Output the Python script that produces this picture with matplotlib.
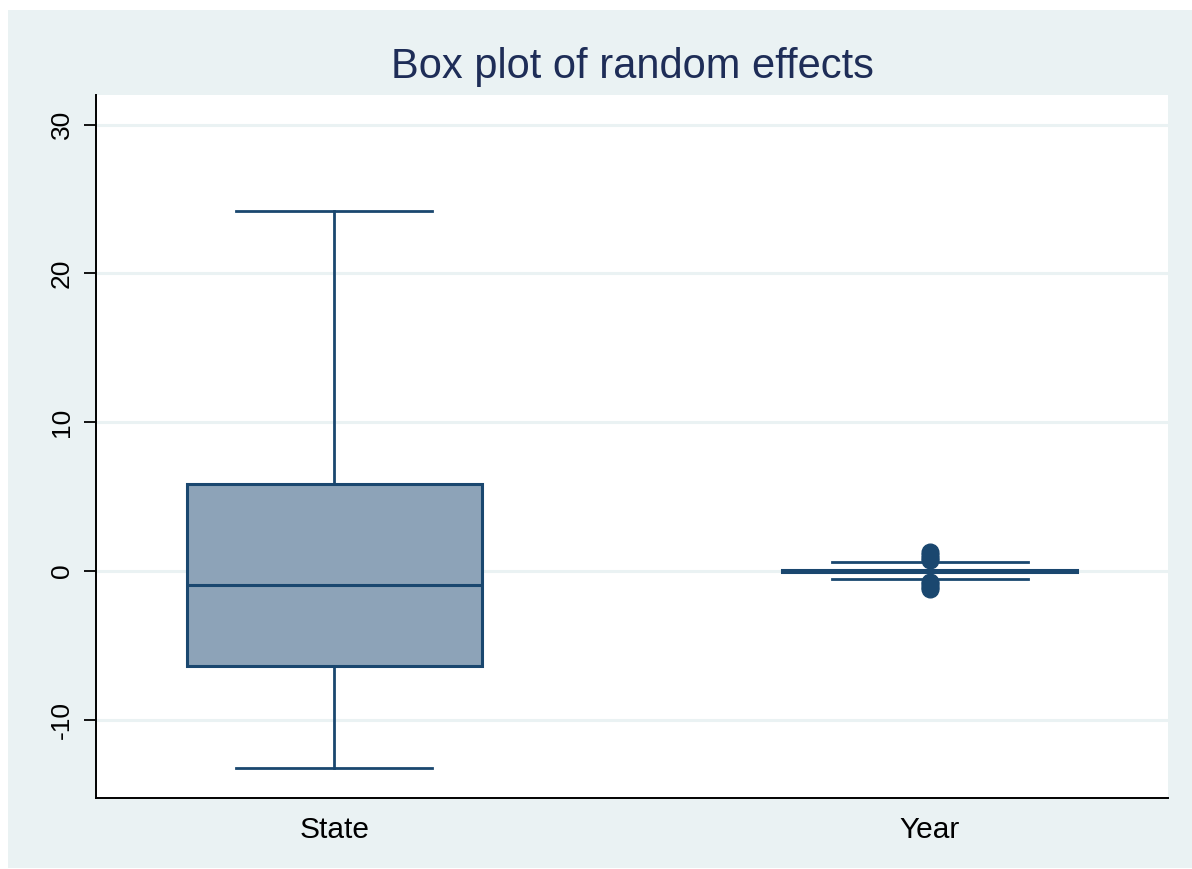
import matplotlib
matplotlib.use("Agg")
import matplotlib.pyplot as plt
from matplotlib.patches import Rectangle

plt.rcParams['font.family'] = ['Liberation Sans', 'DejaVu Sans']

# Data
categories = ["State", "Year"]
q1 = [-6.4, -0.05]
median = [-0.95, 0.0]
q3 = [5.85, 0.05]
whislo = [-13.25, -0.55]
whishi = [24.2, 0.6]
outliers = [[], [1.25, 1.1, 0.9, 0.75, -0.75, -0.9, -1.1, -1.25]]
yticks = [-10, 0, 10, 20, 30]

navy = "#1A476F"
fill = "#8DA3B8"
bg = "#EAF2F3"

fig = plt.figure(figsize=(11.92, 8.69), dpi=100)
fig.patch.set_facecolor("white")
fig.patches.append(Rectangle((8 / 1192, 1 / 869), 1 - 8 / 1192, 1 - 11 / 869,
                             transform=fig.transFigure, facecolor=bg,
                             edgecolor="none", zorder=-10))

ax = fig.add_axes([96 / 1192, 1 - 798 / 869, (1168 - 96) / 1192, (798 - 95) / 869])
ax.set_facecolor("white")

stats = []
for i, c in enumerate(categories):
    stats.append(dict(label=c, med=median[i], q1=q1[i], q3=q3[i],
                      whislo=whislo[i], whishi=whishi[i], fliers=outliers[i]))

positions = [1, 2]
ax.bxp(stats, positions=positions, widths=0.496, patch_artist=True,
       showfliers=True,
       boxprops=dict(facecolor=fill, edgecolor=navy, linewidth=2.2),
       medianprops=dict(color=navy, linewidth=2.2),
       whiskerprops=dict(color=navy, linewidth=2.0),
       capprops=dict(color=navy, linewidth=2.0),
       capwidths=0.33,
       flierprops=dict(marker="o", markerfacecolor=navy, markeredgecolor=navy,
                       markersize=12, linestyle="none"),
       zorder=3)

ax.set_xlim(0.6, 2.4)
ax.set_ylim(-15.27, 32.0)
ax.set_yticks(yticks)
ax.set_yticklabels([str(t) for t in yticks], rotation=90, va="center")
ax.set_xticks(positions)
ax.set_xticklabels(categories)
ax.tick_params(axis="y", length=9, width=1.3, labelsize=19, pad=7, color="black")
ax.tick_params(axis="x", length=0, labelsize=21.5, pad=13)
ax.yaxis.grid(True, color=bg, linewidth=2.2, zorder=0)
ax.set_axisbelow(True)
for s in ["top", "right"]:
    ax.spines[s].set_visible(False)
for s in ["left", "bottom"]:
    ax.spines[s].set_color("black")
    ax.spines[s].set_linewidth(1.4)

fig.text((96 + 1168) / 2 / 1192, 1 - 67 / 869, "Box plot of random effects",
         ha="center", va="center", fontsize=30, color="#1E2D57")

fig.savefig("out.png", dpi=100, facecolor=fig.get_facecolor())
